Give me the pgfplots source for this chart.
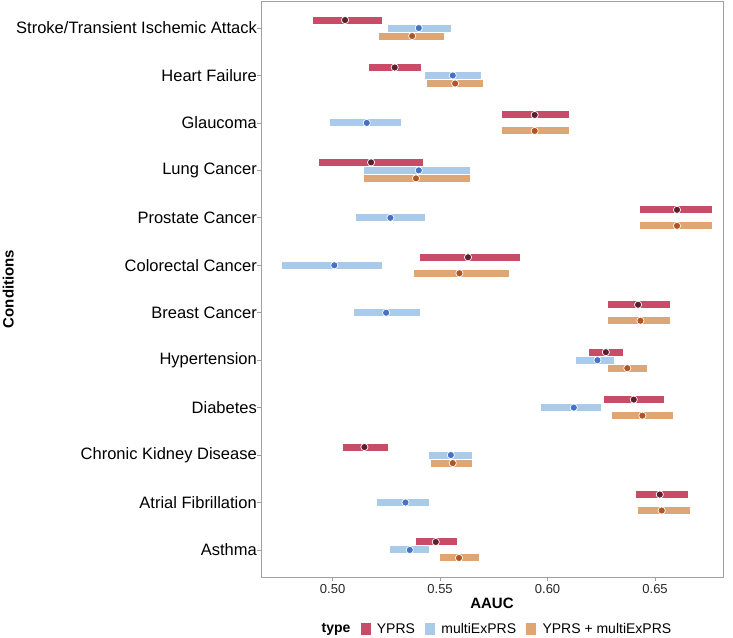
\documentclass[border=0pt]{standalone}
\usepackage{pgfplots}
\pgfplotsset{compat=1.18}
\usepackage{pgfplotstable}
\usepackage{fontspec}
\setmainfont{Liberation Sans}
\definecolor{yprs}{HTML}{C84B68}
\definecolor{yprsdark}{HTML}{5C1F2E}
\definecolor{multi}{HTML}{A9CBE9}
\definecolor{multidark}{HTML}{4472C7}
\definecolor{comb}{HTML}{DEA675}
\definecolor{combdark}{HTML}{B35424}
\definecolor{axgrey}{HTML}{A0A0A0}

\pgfplotstableread{
c x lo hi
11 0.5058 0.4908 0.5229
10 0.5289 0.5168 0.5410
9 0.5940 0.5790 0.6101
8 0.5179 0.4939 0.5420
7 0.6602 0.6432 0.6764
6 0.5630 0.5408 0.5871
5 0.6421 0.6281 0.6571
4 0.6271 0.6192 0.6353
3 0.6401 0.6263 0.6542
2 0.5148 0.5049 0.5260
1 0.6522 0.6412 0.6652
0 0.5480 0.5390 0.5580
}\yprsdata

\pgfplotstableread{
c x lo hi
11 0.5401 0.5260 0.5550
10 0.5559 0.5429 0.5691
9 0.5159 0.4988 0.5320
8 0.5401 0.5148 0.5641
7 0.5269 0.5109 0.5430
6 0.5008 0.4767 0.5230
5 0.5249 0.5100 0.5408
4 0.6232 0.6131 0.6311
3 0.6122 0.5971 0.6250
2 0.5550 0.5450 0.5649
1 0.5339 0.5208 0.5450
0 0.5359 0.5269 0.5450
}\multidata

\pgfplotstableread{
c x lo hi
11 0.5370 0.5218 0.5520
10 0.5570 0.5438 0.5700
9 0.5940 0.5790 0.6101
8 0.5388 0.5148 0.5641
7 0.6602 0.6432 0.6764
6 0.5590 0.5379 0.5821
5 0.6432 0.6281 0.6571
4 0.6371 0.6281 0.6461
3 0.6441 0.6301 0.6582
2 0.5559 0.5460 0.5649
1 0.6531 0.6421 0.6663
0 0.5588 0.5500 0.5680
}\combdata

\begin{document}
\begin{tikzpicture}
\useasboundingbox (-261pt,-60pt) rectangle (472pt,577pt);
\begin{axis}[
  at={(0,0)}, anchor=south west,
  scale only axis, width=462pt, height=576pt,
  xmin=0.4667, xmax=0.6816,
  ymin=-0.57, ymax=11.57,
  xtick={0.5,0.55,0.6,0.65},
  xticklabels={0.50,0.55,0.60,0.65},
  ytick={0,...,11},
  yticklabels={Asthma, Atrial Fibrillation, Chronic Kidney Disease, Diabetes, Hypertension, Breast Cancer, Colorectal Cancer, Prostate Cancer, Lung Cancer, Glaucoma, Heart Failure, Stroke/Transient Ischemic Attack},
  xtick pos=bottom, ytick pos=left,
  tick align=outside,
  major tick length=3.5pt,
  tick style={axgrey, line width=0.8pt},
  axis line style={axgrey, line width=0.9pt},
  xticklabel style={font=\fontsize{13}{15}\selectfont, text=black!85},
  yticklabel style={font=\fontsize{16.5}{19}\selectfont, text=black, inner xsep=1pt, xshift=0.5pt},
  xlabel={\textbf{AAUC}},
  ylabel={\textbf{Conditions}},
  xlabel style={font=\fontsize{15}{17}\selectfont, yshift=2pt},
  ylabel style={font=\fontsize{15}{17}\selectfont, at={(axis description cs:-0.547,0.5)}, anchor=center},
  legend columns=4,
  legend style={draw=none, at={(0.5,-0.0903)}, anchor=center, xshift=2pt,
    font=\fontsize{14}{16}\selectfont,
    /tikz/every odd column/.append style={column sep=5pt},
    /tikz/every even column/.append style={column sep=8pt}},
]
\addplot[forget plot, only marks, mark=*, mark size=3.6pt,
  mark options={fill=yprsdark, draw=white, line width=0.7pt},
  error bars/.cd, x dir=both, x explicit, error mark=none,
  error bar style={line width=7pt, yprs}]
  table[x=x, y expr=\thisrow{c}+0.1686,
    x error plus expr=\thisrow{hi}-\thisrow{x},
    x error minus expr=\thisrow{x}-\thisrow{lo}] {\yprsdata};
\addplot[forget plot, only marks, mark=*, mark size=3.6pt,
  mark options={fill=multidark, draw=white, line width=0.7pt},
  error bars/.cd, x dir=both, x explicit, error mark=none,
  error bar style={line width=7pt, multi}]
  table[x=x, y expr=\thisrow{c},
    x error plus expr=\thisrow{hi}-\thisrow{x},
    x error minus expr=\thisrow{x}-\thisrow{lo}] {\multidata};
\addplot[forget plot, only marks, mark=*, mark size=3.6pt,
  mark options={fill=combdark, draw=white, line width=0.7pt},
  error bars/.cd, x dir=both, x explicit, error mark=none,
  error bar style={line width=7pt, comb}]
  table[x=x, y expr=\thisrow{c}-0.1686,
    x error plus expr=\thisrow{hi}-\thisrow{x},
    x error minus expr=\thisrow{x}-\thisrow{lo}] {\combdata};
\addlegendimage{empty legend}
\addlegendentry{\textbf{type}}
\addlegendimage{legend image code/.code={\fill[yprs] (0pt,-5.5pt) rectangle (9pt,5.5pt);}}
\addlegendentry{YPRS}
\addlegendimage{legend image code/.code={\fill[multi] (0pt,-5.5pt) rectangle (9pt,5.5pt);}}
\addlegendentry{multiExPRS}
\addlegendimage{legend image code/.code={\fill[comb] (0pt,-5.5pt) rectangle (9pt,5.5pt);}}
\addlegendentry{YPRS + multiExPRS}
\end{axis}
\end{tikzpicture}
\end{document}
